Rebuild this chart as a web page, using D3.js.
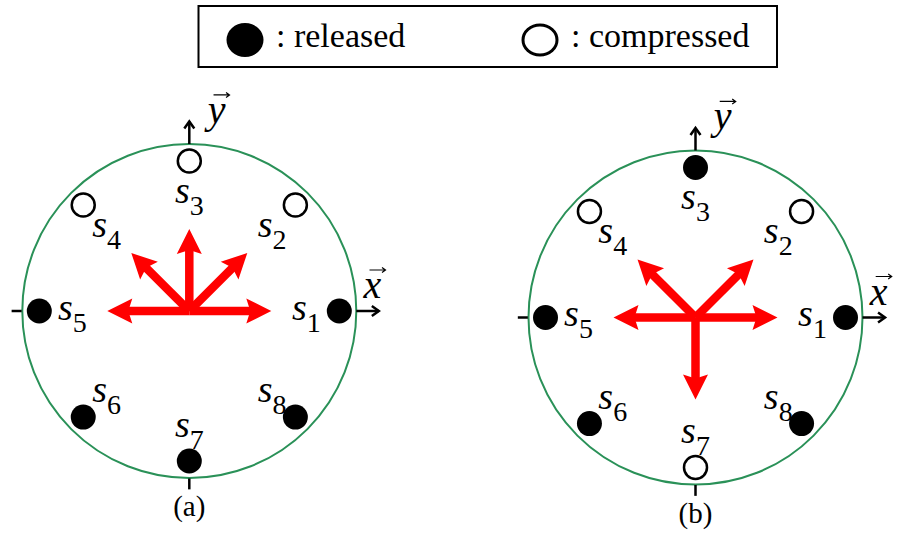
<!DOCTYPE html>
<html lang="en">
<head>
<meta charset="UTF-8">
<title>Spring states</title>
<script src="https://cdn.jsdelivr.net/npm/d3@7"></script>
<style>
  body { margin: 0; background: #fff; }
</style>
</head>
<body>
<div id="chart"></div>
<script>
  // springs on the ring, angle in degrees counter-clockwise from x
  const springIds = [1, 2, 3, 4, 5, 6, 7, 8];
  const springAngles = [0, 45, 90, 135, 180, 225, 270, 315];

  // state of each spring in panel (a) and (b)
  const statesA = ["released", "compressed", "compressed", "compressed", "released", "released", "released", "released"];
  const statesB = ["released", "compressed", "released", "compressed", "released", "released", "compressed", "released"];

  // directions of the red force arrows
  const forceAnglesA = [0, 45, 90, 135, 180];
  const forceAnglesB = [0, 45, 135, 180, 270];

  const panelLabels = ["(a)", "(b)"];
  const legendStates = ["released", "compressed"];
  const legendLabels = [": released", ": compressed"];

  const width = 899;
  const height = 536;
  const R = 167;            // ring radius in px
  const dotR = 150 / R;     // springs sit a bit inside the ring
  const labelR = 117 / R;
  const forceLen = 82 / R;
  const green = "#2a9158";
  const serif = "'Liberation Serif', serif";

  const panels = [
    {label: panelLabels[0], states: statesA, forces: forceAnglesA, cx: 189.3, cy: 311},
    {label: panelLabels[1], states: statesB, forces: forceAnglesB, cx: 695.5, cy: 317.5}
  ];

  const svg = d3.select("#chart").append("svg")
      .attr("width", width)
      .attr("height", height)
      .attr("viewBox", [0, 0, width, height])
      .attr("font-family", serif);

  svg.append("rect").attr("width", width).attr("height", height).attr("fill", "#fff");

  // legend
  const lx = d3.scalePoint().domain(legendStates).range([245, 540]);
  const legend = svg.append("g");
  legend.append("rect")
      .attr("x", 198.5).attr("y", 6)
      .attr("width", 578.5).attr("height", 61)
      .attr("fill", "none").attr("stroke", "#000").attr("stroke-width", 2);
  legend.selectAll("ellipse")
    .data(legendStates)
    .join("ellipse")
      .attr("cx", d => lx(d))
      .attr("cy", 40)
      .attr("rx", d => d === "released" ? 18.5 : 17)
      .attr("ry", d => d === "released" ? 17 : 15)
      .attr("fill", d => d === "released" ? "#000" : "#fff")
      .attr("stroke", "#000")
      .attr("stroke-width", d => d === "released" ? 0 : 3);
  legend.selectAll("text")
    .data(legendStates)
    .join("text")
      .attr("x", d => lx(d) + 31)
      .attr("y", 47)
      .attr("font-size", 34)
      .text((d, i) => legendLabels[i]);

  const rad = a => a * Math.PI / 180;

  function drawPanel(p) {
    const x = d3.scaleLinear().domain([-1, 1]).range([p.cx - R, p.cx + R]);
    const y = d3.scaleLinear().domain([-1, 1]).range([p.cy + R, p.cy - R]);
    const g = svg.append("g");

    // ring
    g.append("circle")
        .attr("cx", x(0)).attr("cy", y(0)).attr("r", x(1) - x(0))
        .attr("fill", "none").attr("stroke", green).attr("stroke-width", 2);

    // small ticks on the left and bottom
    g.append("line")
        .attr("x1", x(-1.064)).attr("x2", x(-1.004)).attr("y1", y(0)).attr("y2", y(0))
        .attr("stroke", "#000").attr("stroke-width", 2.5);
    g.append("line")
        .attr("x1", x(0)).attr("x2", x(0)).attr("y1", y(-1.003)).attr("y2", y(-1.068))
        .attr("stroke", "#000").attr("stroke-width", 2.5);

    // axis arrows x and y
    const axes = [
      {x1: x(1), y1: y(0), x2: x(1.135), y2: y(0), ux: 1, uy: 0},
      {x1: x(0), y1: y(1), x2: x(0), y2: y(1.135), ux: 0, uy: -1}
    ];
    axes.forEach(a => {
      const nx = -a.uy, ny = a.ux;
      g.append("line")
          .attr("x1", a.x1).attr("y1", a.y1).attr("x2", a.x2).attr("y2", a.y2)
          .attr("stroke", "#000").attr("stroke-width", 2.5);
      g.append("path")
          .attr("d", `M${a.x2 - a.ux * 7 + nx * 5},${a.y2 - a.uy * 7 + ny * 5}L${a.x2},${a.y2}L${a.x2 - a.ux * 7 - nx * 5},${a.y2 - a.uy * 7 - ny * 5}`)
          .attr("fill", "none").attr("stroke", "#000").attr("stroke-width", 2.5)
          .attr("stroke-linejoin", "miter");
    });

    // axis names with vector arrows above
    const names = [
      {t: "x", gx: x(1.097), gy: y(0) - 13},
      {t: "y", gx: x(0.163), gy: y(1.126)}
    ];
    names.forEach(n => {
      g.append("text")
          .attr("x", n.gx).attr("y", n.gy)
          .attr("text-anchor", "middle")
          .attr("font-style", "italic")
          .attr("font-size", 40)
          .text(n.t);
      const ay = n.gy - 28, ax1 = n.gx - 3, ax2 = n.gx + 13;
      g.append("path")
          .attr("d", `M${ax1},${ay}L${ax2},${ay}M${ax2 - 3.5},${ay - 2.5}L${ax2},${ay}L${ax2 - 3.5},${ay + 2.5}`)
          .attr("fill", "none").attr("stroke", "#000").attr("stroke-width", 1.2);
    });

    // red force arrows
    const c = [x(0), y(0)];
    p.forces.forEach(a => {
      const ux = Math.cos(rad(a)), uy = -Math.sin(rad(a));
      const nx = -uy, ny = ux;
      const tip = [x(forceLen * Math.cos(rad(a))), y(forceLen * Math.sin(rad(a)))];
      const base = [tip[0] - ux * 25, tip[1] - uy * 25];
      const notch = [tip[0] - ux * 21, tip[1] - uy * 21];
      g.append("line")
          .attr("x1", c[0]).attr("y1", c[1])
          .attr("x2", notch[0] + ux * 2).attr("y2", notch[1] + uy * 2)
          .attr("stroke", "#ff0000").attr("stroke-width", 8.5);
      g.append("path")
          .attr("d", `M${tip[0]},${tip[1]}L${base[0] + nx * 12.5},${base[1] + ny * 12.5}L${notch[0]},${notch[1]}L${base[0] - nx * 12.5},${base[1] - ny * 12.5}Z`)
          .attr("fill", "#ff0000");
    });

    // springs
    const springs = springIds.map((id, i) => ({id, angle: springAngles[i], state: p.states[i]}));
    g.selectAll("circle.spring")
      .data(springs)
      .join("circle")
        .attr("class", "spring")
        .attr("cx", d => x(dotR * Math.cos(rad(d.angle))))
        .attr("cy", d => y(dotR * Math.sin(rad(d.angle))))
        .attr("r", d => d.state === "released" ? 12.5 : 11.5)
        .attr("fill", d => d.state === "released" ? "#000" : "#fff")
        .attr("stroke", "#000")
        .attr("stroke-width", d => d.state === "released" ? 0 : 2.5);

    const labels = g.selectAll("text.spring")
      .data(springs)
      .join("text")
        .attr("class", "spring")
        .attr("x", d => x(labelR * Math.cos(rad(d.angle))))
        .attr("y", d => y(labelR * Math.sin(rad(d.angle))) + 8.5)
        .attr("text-anchor", "middle")
        .attr("font-size", 38);
    labels.append("tspan").attr("font-style", "italic").text("s");
    labels.append("tspan")
        .attr("font-size", 28)
        .attr("dy", 12)
        .text(d => d.id);

    // panel label
    g.append("text")
        .attr("x", x(0)).attr("y", y(0) + 205)
        .attr("text-anchor", "middle")
        .attr("font-size", 29)
        .text(p.label);
  }

  panels.forEach(drawPanel);
</script>
</body>
</html>
